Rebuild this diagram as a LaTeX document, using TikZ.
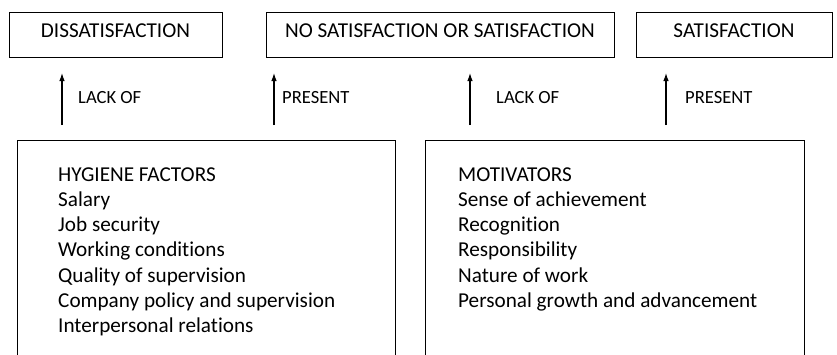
\documentclass[tikz,border=0pt]{standalone}
\usepackage{fontspec}
\setmainfont[Ligatures=NoCommon]{Carlito}
\usetikzlibrary{arrows.meta}
\begin{document}
\begin{tikzpicture}[x=1pt,y=-1pt,
  outcome/.style={draw=black,line width=0.9pt,inner sep=0pt,
    font=\fontsize{21.2}{25}\selectfont,text height=13.5pt,text depth=6.8pt,
    minimum height=45pt},
  factorbox/.style={draw=black,line width=0.9pt,inner sep=0pt,anchor=north west},
  factorlist/.style={anchor=base west,inner sep=0pt,align=left,
    font=\fontsize{21.2}{25.3}\selectfont},
  rel/.style={anchor=base west,inner sep=0pt,font=\fontsize{18.6}{21}\selectfont},
  up/.style={line width=1.1pt,-{Latex[length=8pt,width=5.5pt]}}]
  \clip (0,0) rectangle (837,354);
  % outcome boxes
  \node[outcome,minimum width=213pt] (dis) at (115.5,34.5) {DISSATISFACTION};
  \node[outcome,minimum width=348pt] (neu) at (440,34.5) {NO SATISFACTION OR SATISFACTION};
  \node[outcome,minimum width=196pt] (sat) at (734,34.5) {SATISFACTION};
  % factor boxes, open below the visible area
  \node[factorbox,minimum width=378pt,minimum height=240pt] (hyg) at (17,140) {};
  \node[factorbox,minimum width=379pt,minimum height=240pt] (mot) at (425,140) {};
  % lists, placed by the baseline of their last line
  \node[factorlist] (hygtext) at (58,332.8) {HYGIENE FACTORS\\Salary\\Job security\\Working conditions\\Quality of supervision\\Company policy and supervision\\Interpersonal relations};
  \node[factorlist] (mottext) at (458,307.5) {MOTIVATORS\\Sense of achievement\\Recognition\\Responsibility\\Nature of work\\Personal growth and advancement};
  % arrow ends
  \coordinate (a1s) at (62,125);  \coordinate (a1e) at (62,73);
  \coordinate (a2s) at (274,125); \coordinate (a2e) at (274,73);
  \coordinate (a3s) at (470,125); \coordinate (a3e) at (470,73);
  \coordinate (a4s) at (666,125); \coordinate (a4e) at (666,73);
  \draw[up] (a1s) -- (a1e);
  \draw[up] (a2s) -- (a2e);
  \draw[up] (a3s) -- (a3e);
  \draw[up] (a4s) -- (a4e);
  \node[rel] (l1) at (78,103) {LACK OF};
  \node[rel] (l2) at (282,103) {PRESENT};
  \node[rel] (l3) at (496,103) {LACK OF};
  \node[rel] (l4) at (685,103) {PRESENT};
\end{tikzpicture}
\end{document}
